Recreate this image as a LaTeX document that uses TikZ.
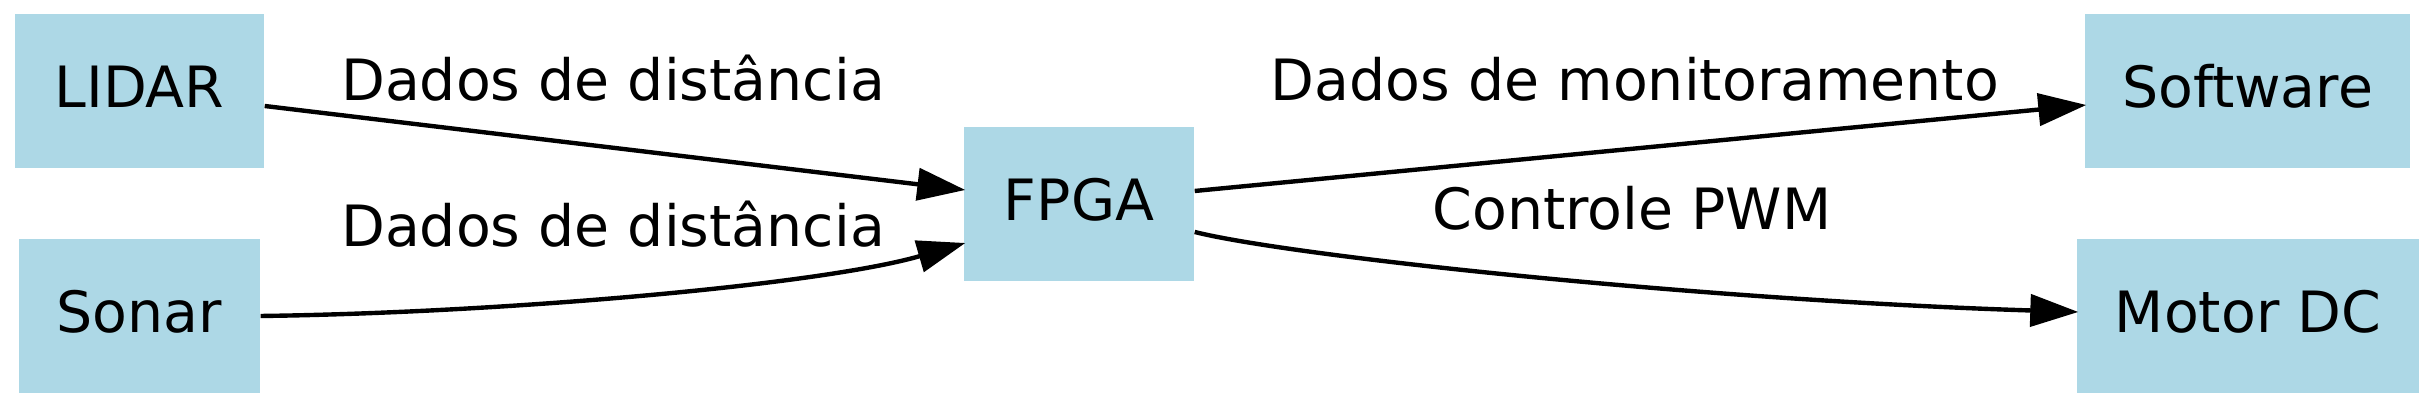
\documentclass[tikz,border=0pt]{standalone}
\usepackage{fontspec}
\setmainfont{DejaVu Sans}
\usepackage{xcolor}
\usetikzlibrary{calc}
\usetikzlibrary{arrows.meta}
\definecolor{lightblue}{RGB}{173,216,230}
\tikzset{block/.style={rectangle, fill=lightblue, inner sep=0pt, text height=13pt, text depth=3.7pt, font=\fontsize{16.2}{19}\selectfont}}
\tikzset{lbl/.style={inner sep=0pt, anchor=base, font=\fontsize{16.2}{19}\selectfont}}
\tikzset{link/.style={draw, line width=1.25pt, -{Triangle[length=4.8mm, width=3.2mm]}}}

\begin{document}
\begin{tikzpicture}[x=0.1mm,y=-0.1mm]
  \useasboundingbox (0,0) rectangle (2433,408);
  \foreach \x/\y/\w/\lab/\txt in {
    139.5/91/249/lidar/LIDAR,
    139.5/316/241/sonar/Sonar,
    1079/204/230/fpga/FPGA,
    2247.5/91/325/soft/Software,
    2248/316/342/motor/Motor DC%
  } {
    \node[block, minimum width=\w*0.1mm, minimum height=15.4mm] (\lab) at (\x, \y) {\txt};
  }
  % labels
  \node[lbl] (dist1) at (613,100.7) {Dados de distância};
  \node[lbl] (dist2) at (613,246.7) {Dados de distância};
  \node[lbl] (monit) at (1635,100.7) {Dados de monitoramento};
  \node[lbl] (pwm) at (1632,230) {Controle PWM};
  % connectors
  \draw[link] ($(lidar.east)+(0,15)$) -- ($(fpga.west)+(2,-14)$);
  \draw[link] (sonar.east) .. controls (500,313) and (820,285) .. ($(fpga.west)+(2,39)$);
  \draw[link] ($(fpga.east)+(0,-13)$) -- ($(soft.west)+(2,14)$);
  \draw[link] ($(fpga.east)+(0,28)$) .. controls (1290,256) and (1700,300) .. ($(motor.west)+(2,-4)$);
\end{tikzpicture}
\end{document}
